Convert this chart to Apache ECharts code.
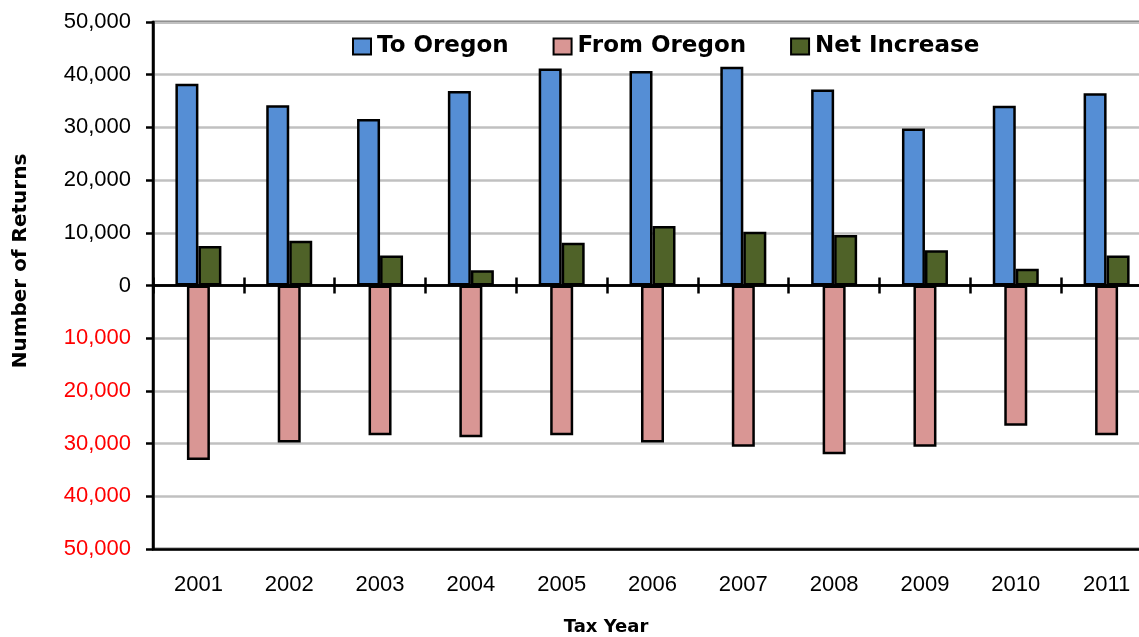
<!DOCTYPE html>
<html>
<head>
<meta charset="utf-8">
<script src="https://cdn.jsdelivr.net/npm/echarts@6/dist/echarts.min.js"></script>
<style>
html,body{margin:0;padding:0;background:#fff;overflow:hidden;width:1139px;height:637px;}
#chart{width:1165px;height:637px;}
</style>
</head>
<body>
<div id="chart"></div>
<script>
const categories = ['2001','2002','2003','2004','2005','2006','2007','2008','2009','2010','2011'];
const toOregon   = [38300, 34200, 31600, 36900, 41200, 40700, 41500, 37200, 29800, 34100, 36500];
const fromOregon = [-33100, -29800, -28400, -28800, -28400, -29800, -30600, -32000, -30600, -26600, -28400];
const netIncrease = [7500, 8500, 5700, 2900, 8100, 11300, 10200, 9600, 6700, 3200, 5700];
const seriesNames = ['To Oregon', 'From Oregon', 'Net Increase'];
const yTicks = { min: -50000, max: 50000, interval: 10000 };

const chart = echarts.init(document.getElementById('chart'), null, { renderer: 'canvas' });
const BW = 23;
const border = { borderColor: '#000', borderWidth: 2.5 };
chart.setOption({
  animation: false,
  backgroundColor: '#fff',
  grid: { left: 153, top: 22, width: 999, bottom: 88, show: true, borderColor: '#000', borderWidth: 2.5, backgroundColor: 'transparent' },
  legend: {
    data: seriesNames,
    left: 352, top: 35, padding: 0,
    icon: 'rect',
    itemWidth: 18, itemHeight: 16, itemGap: 44,
    textStyle: { fontFamily: 'DejaVu Sans', fontWeight: 'bold', fontSize: 23, color: '#000', padding: [0, 0, 0, 1] }
  },
  graphic: [
    { type: 'text', x: 21, y: 261, rotation: Math.PI / 2,
      style: { text: 'Number of Returns', fontFamily: 'DejaVu Sans', fontWeight: 'bold', fontSize: 20, fill: '#000', align: 'center', verticalAlign: 'middle' } },
    { type: 'text', x: 606, y: 627,
      style: { text: 'Tax Year', fontFamily: 'DejaVu Sans', fontWeight: 'bold', fontSize: 18, fill: '#000', align: 'center', verticalAlign: 'middle' } }
  ],
  xAxis: [
    { type: 'category', data: categories, position: 'bottom',
      axisLine: { onZero: false, lineStyle: { color: '#000', width: 2.5 } },
      axisTick: { show: false },
      axisLabel: { margin: 25, fontFamily: 'Liberation Sans', fontSize: 22, color: '#000' } },
    { type: 'category', data: categories, position: 'bottom',
      axisLine: { onZero: true, onZeroAxisIndex: 0, lineStyle: { color: '#000', width: 2.5 } },
      axisTick: { show: true, length: 8, lineStyle: { color: '#000', width: 2.5 } },
      axisLabel: { show: false } },
    { type: 'category', data: categories, position: 'bottom',
      axisLine: { onZero: true, onZeroAxisIndex: 0, lineStyle: { color: '#000', width: 2.5 } },
      axisTick: { show: true, inside: true, length: 8, lineStyle: { color: '#000', width: 2.5 } },
      axisLabel: { show: false } }
  ],
  yAxis: {
    type: 'value', min: yTicks.min, max: yTicks.max, interval: yTicks.interval,
    axisLine: { show: true, lineStyle: { color: '#000', width: 2.5 } },
    axisTick: { show: true, length: 7, lineStyle: { color: '#000', width: 2.5 } },
    splitLine: { show: true, lineStyle: { color: '#c0c0c0', width: 2.5 } },
    axisLabel: {
      margin: 22, fontFamily: 'Liberation Sans', fontSize: 22,
      formatter: v => Math.abs(v).toLocaleString('en-US'),
      color: v => (Number(v) < 0 ? '#ff0000' : '#000')
    }
  },
  series: [
    { name: seriesNames[0], type: 'bar', xAxisIndex: 0, data: toOregon, barWidth: BW, barGap: '0%',
      itemStyle: Object.assign({ color: '#558ed5' }, border), z: 3 },
    { name: seriesNames[1], type: 'bar', xAxisIndex: 1, data: fromOregon, barWidth: BW,
      itemStyle: Object.assign({ color: '#d99694' }, border), z: 3 },
    { name: seriesNames[2], type: 'bar', xAxisIndex: 0, data: netIncrease, barWidth: BW, barGap: '0%',
      itemStyle: Object.assign({ color: '#4f6228' }, border), z: 3 }
  ]
});
</script>
</body>
</html>
